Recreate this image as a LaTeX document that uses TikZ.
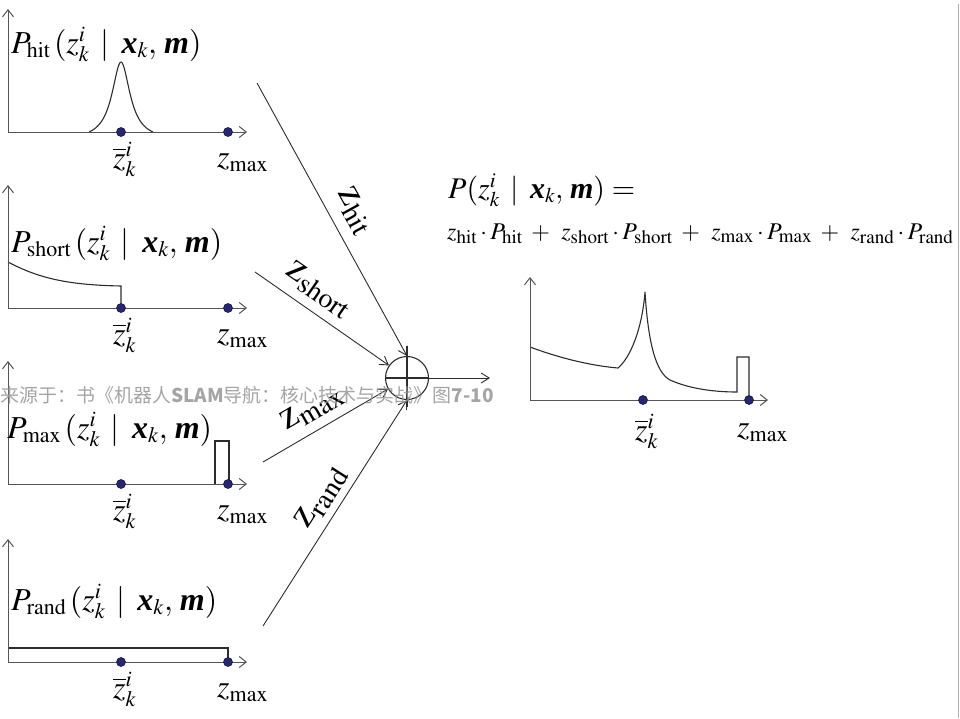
\documentclass[tikz,border=0pt]{standalone}
\usepackage{mathptmx}
\usepackage{fontspec}
\setmainfont{Liberation Serif}
\newfontfamily\cjkfont{Noto Sans CJK SC}
\usetikzlibrary{arrows.meta}
\DeclareMathSizes{40}{40}{28}{20}
\DeclareMathSizes{32}{32}{22}{17}
\DeclareMathSizes{30}{30}{21}{16}
\DeclareMathSizes{24}{24}{19}{15}
\definecolor{axc}{RGB}{85,85,85}
\definecolor{cvc}{RGB}{45,45,45}
\definecolor{dotc}{RGB}{38,38,115}
\definecolor{wmc}{RGB}{150,150,150}
\definecolor{edgec}{RGB}{175,175,175}
\newcommand\bvx{\mbox{\bfseries\itshape x}}
\newcommand\bvm{\mbox{\bfseries\itshape m}}
\newcommand\condx{\mskip 6mu|\mskip 7mu\bvx_k,\,\bvm}
\tikzset{
  axisline/.style={draw=axc, line width=1pt, -{Straight Barb[length=7pt,width=11pt]}},
  curveline/.style={draw=cvc, line width=1.1pt},
  dotnode/.style={circle, fill=dotc, draw=dotc!60!black, line width=0.6pt, inner sep=0pt, minimum size=9pt},
  conn/.style={draw=cvc, line width=0.9pt, -{Straight Barb[length=8pt,width=10pt]}},
  lbl/.style={inner sep=0pt, font=\fontsize{32}{38}\selectfont},
  clbl/.style={inner sep=0pt, font=\fontsize{40}{46}\selectfont, sloped},
  f1lbl/.style={inner sep=0pt, font=\fontsize{30}{36}\selectfont},
  flbl/.style={inner sep=0pt, font=\fontsize{24}{28}\selectfont},
}
\begin{document}
\begin{tikzpicture}[x=1pt,y=-1pt]
\useasboundingbox (0,0) rectangle (960,718);
\fill[white] (0,0) rectangle (960,718);
\draw[edgec, line width=1.2pt] (958.5,4) -- (958.5,718);

% ---- curves of the four panels
\draw[curveline] plot[domain=-32:32, samples=80, smooth] ({121+\x},{132-70*(1/(1+(\x/11)^2)-0.106)/0.894});
\draw[curveline] (8,262) .. controls (40,279) and (70,285) .. (121,286) -- (121,308);
\draw[curveline] (215,484) -- (215,441) -- (229,441) -- (229,484);
\draw[curveline] (8,648) -- (228,648) -- (228,662);

% ---- axes, dots, tick labels
\foreach \b/\n in {132/1,308/2,484/3,662/4}{
  \coordinate (o\n) at (8,\b);
  \coordinate (ytop\n) at (8,\b-123);
  \coordinate (xend\n) at (247,\b);
  \draw[axisline] (o\n) -- (ytop\n);
  \draw[axisline] (o\n) -- (xend\n);
  \node[dotnode] (zb\n) at (121,\b) {};
  \node[dotnode] (zm\n) at (228,\b) {};
  \node[lbl, anchor=base west] (zbl\n) at (113,\b+36) {$\overline{z}_k^i$};
  \node[lbl, anchor=base west] (zml\n) at (217,\b+35) {$z_{\mathrm{max}}$};
}

% ---- panel titles
\node[lbl, anchor=base west] (t1) at (11,53) {$P_{\mathrm{hit}}\,(z_k^i \condx)$};
\node[lbl, anchor=base west] (t2) at (11,252) {$P_{\mathrm{short}}\,(z_k^i \condx)$};
\node[lbl, anchor=base west] (t3) at (7,438) {$P_{\mathrm{max}}\,(z_k^i \condx)$};
\node[lbl, anchor=base west] (t4) at (11,610) {$P_{\mathrm{rand}}\,(z_k^i \condx)$};

% ---- summing junction
\node[draw=cvc, line width=1.1pt, circle, minimum size=43pt, inner sep=0pt] (sum) at (407,378) {};
\draw[curveline] ([yshift=10pt]sum.north) -- ([yshift=-7pt]sum.south);
\draw[curveline] (sum.west) -- (sum.east);
\coordinate (out) at (490,378);
\draw[conn] (sum.east) -- (out);

\coordinate (h0) at (257,83);
\coordinate (s0) at (255,272);
\coordinate (m0) at (263,462);
\coordinate (r0) at (263,626);
\draw[conn] (h0) -- node[clbl, above=11pt, pos=0.51] (lh) {$\mathrm{z}_{\mathrm{hit}}$} (sum.north);
\draw[conn] (s0) -- node[clbl, above=9pt, pos=0.38] (ls) {$\mathrm{z}_{\mathrm{short}}$} (sum);
\draw[conn] (m0) -- node[clbl, above=9pt, pos=0.48] (lm) {$\mathrm{z}_{\mathrm{max}}$} (sum);
\draw[conn] (r0) -- node[clbl, above=7pt, pos=0.52] (lr) {$\mathrm{z}_{\mathrm{rand}}$} (sum.south);

% ---- formula
\node[f1lbl, anchor=base west] (f1) at (448,198) {$P(z_k^i \condx) =$};
\node[flbl, anchor=base west] (f2) at (447,239) {$z_{\mathrm{hit}} \cdot P_{\mathrm{hit}} \;+\;\, z_{\mathrm{short}} \cdot P_{\mathrm{short}} \;+\;\, z_{\mathrm{max}} \cdot P_{\mathrm{max}} \;+\;\, z_{\mathrm{rand}} \cdot P_{\mathrm{rand}}$};

% ---- combined panel
\coordinate (ro) at (530,400);
\coordinate (rytop) at (530,277);
\coordinate (rxend) at (768,400);
\draw[curveline] (530,347) .. controls (565,360) and (595,366) .. (618,368)
  .. controls (630,358) and (642,330) .. (645,292)
  .. controls (648,340) and (655,372) .. (670,380)
  .. controls (690,389) and (715,392) .. (737,392)
  -- (737,357) -- (749,357) -- (749,400);
\draw[axisline] (ro) -- (rytop);
\draw[axisline] (ro) -- (rxend);
\node[dotnode] (rzb) at (643,400) {};
\node[dotnode] (rzm) at (749,400) {};
\node[lbl, anchor=base west] (rzbl) at (635,440) {$\overline{z}_k^i$};
\node[lbl, anchor=base west] (rzml) at (737,437) {$z_{\mathrm{max}}$};

% ---- watermark
\node[inner sep=0pt, anchor=west, text=wmc, opacity=0.85, font=\cjkfont\fontsize{19}{19}\selectfont] (wm) at (0,395)
  {来源于：书《机器人\textbf{SLAM}导航：核心技术与实战》图\textbf{7-10}};
\end{tikzpicture}
\end{document}
